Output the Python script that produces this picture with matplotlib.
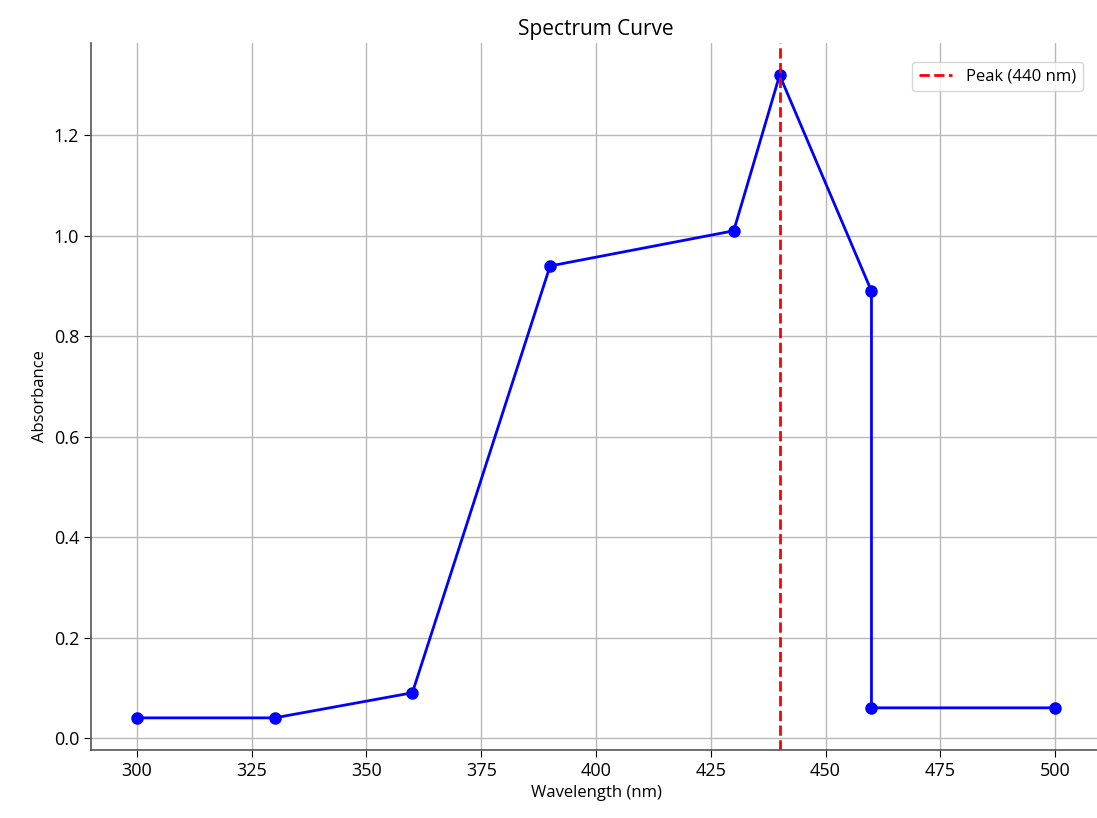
import matplotlib
matplotlib.use("Agg")
import matplotlib.pyplot as plt

plt.rcParams['font.family'] = ['Open Sans', 'DejaVu Sans']

wavelength = [300, 330, 360, 390, 430, 440, 460, 460, 500]
absorbance = [0.04, 0.04, 0.09, 0.94, 1.01, 1.32, 0.89, 0.06, 0.06]
peak_wavelength = 440

fig = plt.figure(figsize=(10.97, 8.18), dpi=100)
ax = fig.add_axes([91/1097, 68/818, 1010/1097, 707/818])

ax.plot(wavelength, absorbance, color='blue', marker='o', markersize=8, linewidth=2)
ax.axvline(peak_wavelength, color='red', linestyle='--', linewidth=2, label=f'Peak ({peak_wavelength} nm)')

ax.set_title('Spectrum Curve', fontsize=15)
ax.set_xlabel('Wavelength (nm)', fontsize=12)
ax.set_ylabel('Absorbance', fontsize=12)
ax.tick_params(labelsize=13, length=5)
ax.grid(True, color='#b8b8b8', linewidth=1)
ax.set_axisbelow(True)
for s in ['top', 'right']:
    ax.spines[s].set_visible(False)
for s in ['left', 'bottom']:
    ax.spines[s].set_color('#555555')
    ax.spines[s].set_linewidth(1.2)

ax.legend(loc='upper right', fontsize=12, bbox_to_anchor=(0.99, 0.985))

fig.savefig('out.png', dpi=100)
